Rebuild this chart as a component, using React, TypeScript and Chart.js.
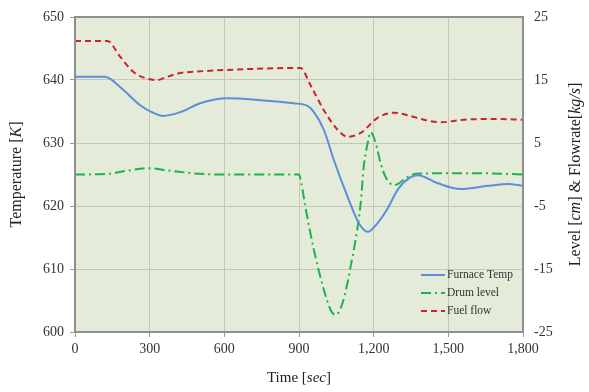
import React, { useEffect, useRef } from "react";
import { Chart, registerables } from "chart.js";

Chart.register(...registerables);

const xTicks = [0, 300, 600, 900, 1200, 1500, 1800];

const furnaceTime = [0, 120, 181, 262, 314, 354, 423, 503, 612, 745, 878, 934, 960, 1000, 1040, 1095, 1140, 1176, 1216, 1256, 1300, 1349, 1377, 1458, 1550, 1659, 1740, 1800];
const furnaceTemp = [640.5, 640.5, 638.9, 636.0, 634.8, 634.3, 634.9, 636.3, 637.1, 636.8, 636.3, 635.9, 634.9, 632.1, 627.3, 621.5, 617.3, 615.9, 617.3, 619.6, 622.8, 624.6, 624.9, 623.6, 622.7, 623.2, 623.5, 623.2];

const drumTime = [0, 130, 209, 294, 382, 503, 600, 900, 910, 926, 960, 1000, 1027, 1047, 1075, 1107, 1148, 1160, 1176, 1188, 1208, 1228, 1248, 1281, 1337, 1369, 1510, 1630, 1800];
const drumLevel = [0, 0.1, 0.6, 1.0, 0.6, 0.1, 0, 0, -1.5, -5.2, -12, -18.3, -21.5, -22.3, -20.4, -14.7, -4.5, 1.2, 5.0, 6.7, 5.0, 1.8, -0.4, -1.7, -0.4, 0.1, 0.2, 0.2, 0.0];

const fuelTime = [0, 130, 181, 234, 290, 330, 370, 423, 475, 612, 878, 906, 946, 1000, 1055, 1095, 1148, 1216, 1281, 1337, 1401, 1470, 1563, 1683, 1800];
const fuelFlow = [21.2, 21.2, 18.7, 16.3, 15.2, 15.0, 15.5, 16.1, 16.3, 16.6, 16.9, 16.9, 14.2, 10.2, 7.1, 6.0, 6.6, 9.0, 9.8, 9.4, 8.7, 8.3, 8.7, 8.8, 8.7];

const seriesLabels = ["Furnace Temp", "Drum level", "Fuel flow"];
const seriesColors = ["#5b8fd9", "#1fb24a", "#d0202a"];
const seriesDash = [[], [10, 4, 2, 4], [6, 4]];

const FONT = "'Liberation Serif', 'Times New Roman', serif";

type Seg = { t: string; i?: boolean };
const xTitle: Seg[] = [{ t: "Time [" }, { t: "sec", i: true }, { t: "]" }];
const yTitle: Seg[] = [{ t: "Temperature [" }, { t: "K", i: true }, { t: "]" }];
const y2Title: Seg[] = [{ t: "Level [" }, { t: "cm", i: true }, { t: "] & Flowrate[" }, { t: "kg/s", i: true }, { t: "]" }];

const pts = (xs: number[], ys: number[]) => xs.map((x, i) => ({ x, y: ys[i] }));

function drawRich(ctx: CanvasRenderingContext2D, segs: Seg[], cx: number, cy: number, rot: number, size: number) {
  ctx.save();
  ctx.translate(cx, cy);
  ctx.rotate(rot);
  ctx.textBaseline = "middle";
  ctx.textAlign = "left";
  ctx.fillStyle = "#222";
  let total = 0;
  for (const s of segs) {
    ctx.font = `${s.i ? "italic " : ""}${size}px ${FONT}`;
    total += ctx.measureText(s.t).width;
  }
  let x = -total / 2;
  for (const s of segs) {
    ctx.font = `${s.i ? "italic " : ""}${size}px ${FONT}`;
    ctx.fillText(s.t, x, 0);
    x += ctx.measureText(s.t).width;
  }
  ctx.restore();
}

const decorPlugin = {
  id: "decor",
  beforeDraw(chart: any) {
    const { ctx, chartArea: a } = chart;
    ctx.save();
    ctx.fillStyle = "#e4ebd9";
    ctx.fillRect(a.left, a.top, a.right - a.left, a.bottom - a.top);
    ctx.restore();
  },
  afterDraw(chart: any) {
    const { ctx, chartArea: a } = chart;
    // plot border
    ctx.save();
    ctx.strokeStyle = "#8f8f8f";
    ctx.lineWidth = 2;
    ctx.strokeRect(a.left, a.top, a.right - a.left, a.bottom - a.top);
    ctx.restore();
    // titles
    drawRich(ctx, xTitle, (a.left + a.right) / 2, 378, 0, 15);
    drawRich(ctx, yTitle, 17, (a.top + a.bottom) / 2, -Math.PI / 2, 16);
    drawRich(ctx, y2Title, 576, (a.top + a.bottom) / 2, -Math.PI / 2, 16);
    // legend
    const lx = 421;
    const rows = [275, 293, 311];
    ctx.save();
    for (let i = 0; i < 3; i++) {
      ctx.strokeStyle = seriesColors[i];
      ctx.lineWidth = 2;
      ctx.setLineDash(seriesDash[i]);
      ctx.beginPath();
      ctx.moveTo(lx, rows[i]);
      ctx.lineTo(lx + 24, rows[i]);
      ctx.stroke();
      ctx.setLineDash([]);
      ctx.fillStyle = "#333";
      ctx.font = `11.5px ${FONT}`;
      ctx.textBaseline = "middle";
      ctx.textAlign = "left";
      ctx.fillText(seriesLabels[i], lx + 26, rows[i]);
    }
    ctx.restore();
  },
};

export default function App() {
  const ref = useRef<HTMLCanvasElement>(null);
  useEffect(() => {
    document.body.style.margin = "0";
    const chart = new Chart(ref.current!, {
      type: "line",
      data: {
        datasets: [
          {
            label: seriesLabels[0],
            data: pts(furnaceTime, furnaceTemp),
            borderColor: seriesColors[0],
            borderWidth: 2,
            borderDash: seriesDash[0],
            pointRadius: 0,
            cubicInterpolationMode: "monotone",
            yAxisID: "y",
          },
          {
            label: seriesLabels[1],
            data: pts(drumTime, drumLevel),
            borderColor: seriesColors[1],
            borderWidth: 2,
            borderDash: seriesDash[1],
            pointRadius: 0,
            cubicInterpolationMode: "monotone",
            yAxisID: "y2",
          },
          {
            label: seriesLabels[2],
            data: pts(fuelTime, fuelFlow),
            borderColor: seriesColors[2],
            borderWidth: 2,
            borderDash: seriesDash[2],
            pointRadius: 0,
            cubicInterpolationMode: "monotone",
            yAxisID: "y2",
          },
        ],
      },
      options: {
        animation: false,
        responsive: false,
        layout: { padding: { top: 17, left: 0, right: 0, bottom: 0 } },
        plugins: { legend: { display: false }, tooltip: { enabled: false } },
        scales: {
          x: {
            type: "linear",
            min: 0,
            max: 1800,
            afterBuildTicks: (s: any) => {
              s.ticks = xTicks.map((v) => ({ value: v }));
            },
            ticks: {
              color: "#333",
              font: { family: FONT, size: 14 },
              padding: 4,
              maxRotation: 0,
              callback: (v: any) => Number(v).toLocaleString("en-US"),
            },
            grid: { color: "#c4c8bc", tickLength: 5, tickColor: "#999" },
            border: { display: false },
            afterFit: (s: any) => {
              s.height = 60;
            },
          },
          y: {
            position: "left",
            min: 600,
            max: 650,
            ticks: { stepSize: 10, color: "#333", font: { family: FONT, size: 14 }, padding: 6 },
            grid: { color: "#c4c8bc", tickLength: 5, tickColor: "#999" },
            border: { display: false },
            afterFit: (s: any) => {
              s.width = 75;
            },
          },
          y2: {
            position: "right",
            min: -25,
            max: 25,
            ticks: { stepSize: 10, color: "#333", font: { family: FONT, size: 14 }, padding: 6 },
            grid: { display: false, drawOnChartArea: false, tickLength: 5, tickColor: "#999" },
            border: { display: false },
            afterFit: (s: any) => {
              s.width = 66;
            },
          },
        },
      },
      plugins: [decorPlugin],
    } as any);
    return () => chart.destroy();
  }, []);
  return <canvas ref={ref} width={589} height={392} style={{ display: "block" }} />;
}
